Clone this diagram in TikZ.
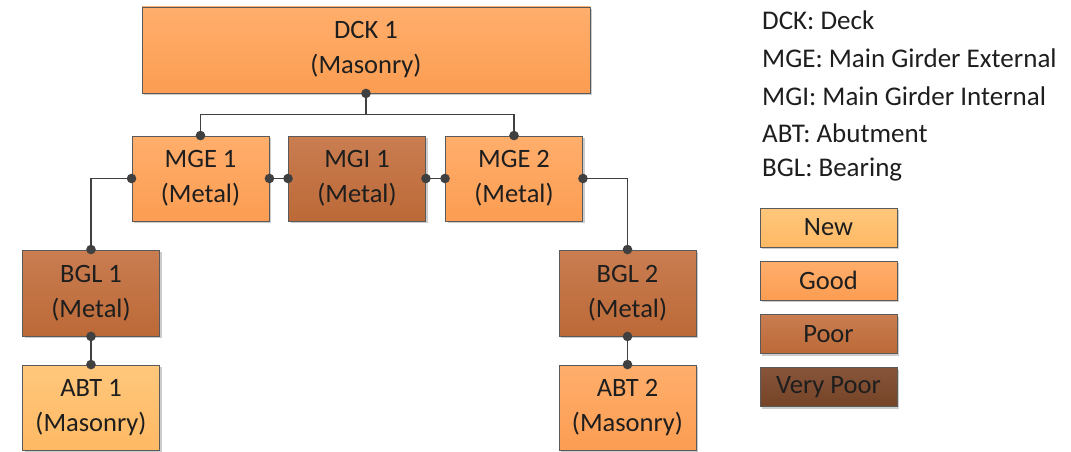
\documentclass[tikz,border=0pt]{standalone}
\usepackage{fontspec}
\setmainfont{Carlito}
\usetikzlibrary{shadows}
\definecolor{newtop}{HTML}{FFC77C}
\definecolor{newbot}{HTML}{FFB964}
\definecolor{goodtop}{HTML}{FFAE6C}
\definecolor{goodbot}{HTML}{FC9D52}
\definecolor{poortop}{HTML}{C97D51}
\definecolor{poorbot}{HTML}{BC6937}
\definecolor{vpoortop}{HTML}{87553A}
\definecolor{vpoorbot}{HTML}{754326}
\definecolor{edgec}{HTML}{5A5A5A}
\definecolor{wirec}{HTML}{404040}
\definecolor{textc}{HTML}{1E1E1E}
\tikzset{
  box/.style={draw=edgec, line width=0.9pt, minimum width=137pt, minimum height=85pt,
    align=center, inner sep=0pt, text=textc,
    font=\fontsize{26.5}{35}\selectfont,
    drop shadow={shadow xshift=2pt, shadow yshift=-2pt, opacity=0.2, fill=black}},
  newbox/.style={box, top color=newtop, bottom color=newbot},
  goodbox/.style={box, top color=goodtop, bottom color=goodbot},
  poorbox/.style={box, top color=poortop, bottom color=poorbot},
  vpoorbox/.style={box, top color=vpoortop, bottom color=vpoorbot},
  keybox/.style={minimum height=39pt},
  keytext/.style={anchor=west, inner sep=0pt, text=textc, font=\fontsize{27}{30}\selectfont},
  wire/.style={draw=wirec, line width=1.3pt},
  pin/.style={fill=wirec},
}
\newcommand{\pinat}[1]{\fill[pin] (#1) circle (4.8pt);}
\begin{document}
\begin{tikzpicture}[x=1pt,y=-1pt]
\useasboundingbox (0,0) rectangle (1071,452);

% structural elements
\node[goodbox, minimum width=448pt, minimum height=86pt] (dck) at (366,50) {DCK 1\\(Masonry)};
\node[goodbox] (mge1) at (200.5,178.5) {MGE 1\\(Metal)};
\node[poorbox] (mgi1) at (357,178.5) {MGI 1\\(Metal)};
\node[goodbox] (mge2) at (514,178.5) {MGE 2\\(Metal)};
\node[poorbox, minimum height=86pt] (bgl1) at (91,293) {BGL 1\\(Metal)};
\node[newbox] (abt1) at (91,407.5) {ABT 1\\(Masonry)};
\node[poorbox, minimum height=86pt] (bgl2) at (627.5,293) {BGL 2\\(Metal)};
\node[goodbox] (abt2) at (627.5,407.5) {ABT 2\\(Masonry)};

% connections
\draw[wire] (dck.south) -- ++(0,21) -| (mge1.north);
\draw[wire] (dck.south) -- ++(0,21) -| (mge2.north);
\draw[wire] (mge1.east) -- (mgi1.west);
\draw[wire] (mgi1.east) -- (mge2.west);
\draw[wire] (mge1.west) -| (bgl1.north);
\draw[wire] (mge2.east) -| (bgl2.north);
\draw[wire] (bgl1.south) -- (abt1.north);
\draw[wire] (bgl2.south) -- (abt2.north);

\foreach \p in {dck.south, mge1.north, mge2.north, mge1.east, mgi1.west,
  mgi1.east, mge2.west, mge1.west, mge2.east, bgl1.north, bgl2.north,
  bgl1.south, abt1.north, bgl2.south, abt2.north}
  {\pinat{\p}}

% abbreviations
\node[keytext] (k1) at (762,20) {DCK: Deck};
\node[keytext] (k2) at (762,58) {MGE: Main Girder External};
\node[keytext] (k3) at (762,96) {MGI: Main Girder Internal};
\node[keytext] (k4) at (762,133) {ABT: Abutment};
\node[keytext] (k5) at (762,170) {BGL: Bearing};

% condition scale
\node[newbox, keybox] (lnew) at (828.5,227.5) {New};
\node[goodbox, keybox] (lgood) at (828.5,280.5) {Good};
\node[poorbox, keybox] (lpoor) at (828.5,334) {Poor};
\node[vpoorbox, keybox] (lvpoor) at (828.5,387) {Very Poor};
\end{tikzpicture}
\end{document}
